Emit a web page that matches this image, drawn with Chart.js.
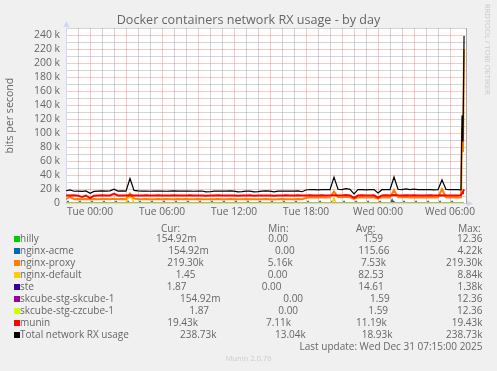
<!DOCTYPE html>
<html>
<head>
<meta charset="utf-8">
<script src="https://cdn.jsdelivr.net/npm/chart.js@4.4.1/dist/chart.umd.min.js"></script>
<style>
  body { margin: 0; background: #f0f0f0; }
  #wrap { position: relative; width: 497px; height: 371px; overflow: hidden; font-family: "Open Sans", sans-serif; color: #666; }
  #grafico { position: absolute; left: 0; top: 0; }
  .t { position: absolute; font-size: 10px; line-height: 12px; white-space: nowrap; }
  .sw { position: absolute; width: 6px; height: 6px; }
  #marca { position: absolute; left: 492px; top: 4px; font-size: 7.6px; line-height: 9px; color: #c8c8c8; white-space: nowrap; transform: rotate(90deg); transform-origin: left top; }
  #versao { position: absolute; left: 0; width: 497px; text-align: center; font-size: 7.6px; line-height: 9px; color: #cccccc; }
</style>
</head>
<body>
<div id="wrap">
  <canvas id="grafico" width="497" height="371"></canvas>
  <div id="marca">RRDTOOL / TOBI OETIKER</div>
  <div id="legenda"></div>
</div>
<script>
// =============================
// DADOS
// =============================
const chartTitle = "Docker containers network RX usage - by day";
const yAxisTitle = "bits per second";

// ticks (hours from Tue 00:00, values in k)
const xTickHours = [0, 6, 12, 18, 24, 30];
const xTickLabels = ["Tue 00:00", "Tue 06:00", "Tue 12:00", "Tue 18:00", "Wed 00:00", "Wed 06:00"];
const yTickValues = [0, 20, 40, 60, 80, 100, 120, 140, 160, 180, 200, 220, 240];
const yTickLabels = ["0", "20 k", "40 k", "60 k", "80 k", "100 k", "120 k", "140 k", "160 k", "180 k", "200 k", "220 k", "240 k"];

// 20 minute samples from Mon 22:00, then the last 5 minute samples
const sampleHours = Array.from({ length: 99 }, (_, i) => -2 + i / 3);
const tailHours = [30.83, 30.92, 31.0, 31.08, 31.17];
const hours = sampleHours.concat(tailHours);

const totalValues = [
  17.5, 18.6, 16.8, 17.0, 16.5, 17.2,
  13.9, 16.6, 17.0, 17.2, 16.9, 17.4,
  19.8, 17.0, 17.2, 16.9, 35.0, 18.0,
  17.2, 16.9, 17.1, 16.8, 17.0, 17.1,
  17.0, 16.8, 17.0, 17.2, 16.9, 17.0,
  17.1, 17.0, 16.8, 17.0, 17.1, 15.8,
  16.1, 17.0, 17.1, 16.9, 17.0, 17.2,
  17.0, 15.8, 16.2, 17.0, 17.1, 15.9,
  16.2, 17.0, 17.2, 17.0, 16.0, 16.9,
  17.0, 17.1, 16.9, 17.0, 17.2, 16.1,
  18.6, 19.3, 19.0, 18.8, 19.1, 19.0,
  19.2, 37.0, 19.6, 19.2, 20.6, 19.5,
  13.04, 19.0, 19.2, 18.9, 19.0, 19.1,
  14.3, 19.0, 19.2, 19.0, 37.2, 19.6,
  19.2, 20.1, 19.0, 19.7, 19.0, 19.3,
  19.0, 19.2, 18.9, 19.1, 33.0, 19.4,
  19.0, 19.2, 19.0,
  18.8, 19.1, 125.0, 88.0, 238.73
];

const muninValues = [
  10.8, 10.6, 10.9, 10.5, 8.6, 10.7,
  7.11, 10.4, 10.8, 10.9, 10.6, 10.8,
  13.2, 10.7, 10.8, 10.6, 11.0, 10.9,
  10.8, 10.6, 10.9, 10.7, 10.8, 10.9,
  10.7, 10.8, 10.6, 10.9, 10.8, 10.7,
  10.8, 10.9, 10.7, 10.6, 10.8, 10.5,
  10.6, 10.8, 10.9, 10.7, 10.8, 10.9,
  10.8, 10.4, 10.6, 10.8, 10.9, 10.5,
  10.6, 10.8, 10.9, 10.8, 10.5, 10.7,
  10.8, 10.9, 10.7, 10.8, 10.9, 10.6,
  10.7, 10.9, 10.8, 10.7, 10.9, 10.8,
  10.9, 11.2, 10.8, 10.9, 11.4, 10.8,
  7.4, 10.7, 10.9, 10.8, 10.7, 10.9,
  7.6, 10.8, 10.9, 10.7, 11.3, 10.9,
  10.8, 11.2, 10.7, 10.9, 10.8, 10.9,
  10.8, 10.9, 10.7, 10.8, 11.0, 10.9,
  10.8, 10.9, 10.8,
  11.0, 11.6, 14.0, 16.0, 19.43
];

const proxyValues = [
  5.6, 8.6, 5.5, 5.7, 5.5, 5.6,
  5.4, 5.6, 5.5, 5.7, 5.6, 5.5,
  6.2, 5.5, 5.6, 5.5, 13.5, 6.2,
  5.6, 5.5, 5.6, 5.4, 5.5, 5.6,
  5.5, 5.6, 5.4, 5.5, 5.6, 5.5,
  5.6, 5.5, 5.4, 5.6, 5.5, 5.3,
  5.4, 5.5, 5.6, 5.5, 5.4, 5.6,
  5.5, 5.3, 5.4, 5.6, 5.5, 5.2,
  5.3, 5.5, 5.6, 5.5, 5.16, 5.5,
  5.6, 5.5, 5.4, 5.5, 5.6, 5.4,
  7.2, 8.2, 8.0, 8.1, 7.9, 8.0,
  8.1, 16.5, 8.6, 8.2, 8.8, 8.1,
  5.8, 8.0, 8.2, 7.9, 8.0, 8.1,
  6.2, 8.0, 8.1, 8.0, 18.5, 8.4,
  8.1, 8.6, 8.0, 8.3, 8.0, 8.2,
  8.0, 8.1, 7.9, 8.2, 20.0, 8.3,
  8.0, 8.1, 8.0,
  7.9, 8.2, 108.0, 73.0, 219.30
];

// sparse series: explicit hours / values
const defaultHours = [-2, 3.0, 3.17, 3.33, 3.5, 3.67, 20.17, 20.33, 20.5, 31.17];
const defaultValues = [0, 0, 6.5, 8.84, 7.2, 0, 0, 7.0, 0, 0];
const steHours = [-2, 25.25, 25.33, 25.42, 31.17];
const steValues = [0, 0, 1.38, 0, 0];
const flatHours = [-2, 31.17];
const hillyValues = [0, 0];
const skcubeValues = [0, 0];
const czcubeValues = [0, 0];

// nginx-acme: short hourly blips
const acmeBlipHours = [-1.83, -0.83, 0.17, 1.17, 2.17, 3.17, 4.17, 5.17, 6.17, 7.17, 8.17,
  9.17, 10.17, 11.17, 12.17, 13.17, 14.17, 15.17, 16.17, 17.17, 18.17, 19.17, 20.17,
  21.17, 22.17, 23.17, 24.17, 25.17, 26.17, 27.17, 28.17, 29.17, 30.17];
const acmeBlipValues = [2.1, 2.0, 2.1, 2.0, 2.1, 2.0, 2.1, 2.0, 2.1, 2.0, 2.1,
  2.0, 2.1, 2.0, 2.1, 2.0, 2.1, 2.0, 2.1, 2.0, 2.1, 2.0, 2.1,
  2.0, 2.1, 2.0, 2.1, 4.22, 2.1, 2.0, 2.1, 2.0, 2.1];

// legend
const seriesNames = ["hilly", "nginx-acme", "nginx-proxy", "nginx-default", "ste",
  "skcube-stg-skcube-1", "skcube-stg-czcube-1", "munin", "Total network RX usage"];
const seriesColors = ["#00CC00", "#0066B3", "#FF8000", "#FFCC00", "#330099",
  "#990099", "#CCFF00", "#FF0000", "#000000"];
const curValues = ["154.92m", "154.92m", "219.30k", "1.45", "1.87", "154.92m", "1.87", "19.43k", "238.73k"];
const minValues = ["0.00", "0.00", "5.16k", "0.00", "0.00", "0.00", "0.00", "7.11k", "13.04k"];
const avgValues = ["1.59", "115.66", "7.53k", "82.53", "14.61", "1.59", "1.59", "11.19k", "18.93k"];
const maxValues = ["12.36", "4.22k", "219.30k", "8.84k", "1.38k", "12.36", "12.36", "19.43k", "238.73k"];
const lastUpdate = "Last update: Wed Dec 31 07:15:00 2025";
const muninVersion = "Munin 2.0.76";

// =============================
// LAYOUT (pixels)
// =============================
const lineWidths = [1, 1.5, 2, 1.5, 1.5, 1, 1.5, 2, 1.2];
const curX = [156, 168.3, 167.3, 175.7, 166.7, 180, 189.3, 167.3, 180];
const minX = [268.3, 275, 267.7, 267.7, 261.7, 283.3, 278.3, 266, 275];
const avgX = [363.3, 358.3, 361, 358.3, 358.3, 370, 368.3, 356, 361.7];
const maxRight = 482.5;
const headerX = [161, 268.3, 356, 458.3];
const headerBaseline = 231.7;
const firstRowBaseline = 242.3;
const rowStep = 12;

// =============================
// SERIES
// =============================
function toPoints(xs, ys) {
  return xs.map((x, i) => ({ x: x, y: ys[i] }));
}

function blipPoints(xs, ys) {
  const pts = [{ x: -2, y: 0 }];
  xs.forEach((x, i) => {
    pts.push({ x: x - 0.08, y: 0 }, { x: x, y: ys[i] }, { x: x + 0.08, y: 0 });
  });
  pts.push({ x: 31.17, y: 0 });
  return pts;
}

const seriesPoints = [
  toPoints(flatHours, hillyValues),
  blipPoints(acmeBlipHours, acmeBlipValues),
  toPoints(hours, proxyValues),
  toPoints(defaultHours, defaultValues),
  toPoints(steHours, steValues),
  toPoints(flatHours, skcubeValues),
  toPoints(flatHours, czcubeValues),
  toPoints(hours, muninValues),
  toPoints(hours, totalValues)
];

const datasets = seriesNames.map((name, i) => ({
  label: name,
  data: seriesPoints[i],
  borderColor: seriesColors[i],
  backgroundColor: seriesColors[i],
  borderWidth: lineWidths[i],
  pointRadius: 0,
  tension: 0,
  fill: false,
  order: seriesNames.length - i // total on top
}));

// =============================
// GRAFICO
// =============================
// rrdtool default grid colours
const majorGrid = "rgba(222, 79, 79, 0.6)";
const minorGrid = "rgba(143, 143, 143, 0.75)";
const axisColor = "#CFD6F8";
const fontFamily = "'Open Sans', sans-serif";
// 1 on / 1 off dots, offset by half a pixel so the dots blend evenly
const gridDash = [1, 1];
const gridDashOffset = 0.5;

const muninFrame = {
  id: "muninFrame",
  beforeDraw(chart) {
    const { ctx, chartArea: a } = chart;
    ctx.save();
    ctx.fillStyle = "#ffffff";
    ctx.fillRect(a.left, a.top, a.right - a.left, a.bottom - a.top);
    ctx.restore();
  },
  afterDraw(chart) {
    const { ctx, chartArea: a } = chart;
    ctx.save();
    ctx.fillStyle = axisColor;
    // arrow on top of y axis
    ctx.beginPath();
    ctx.moveTo(a.left - 2.5, a.top - 1);
    ctx.lineTo(a.left + 3.5, a.top - 1);
    ctx.lineTo(a.left + 0.5, a.top - 7);
    ctx.closePath();
    ctx.fill();
    // arrow at end of x axis
    ctx.beginPath();
    ctx.moveTo(a.right + 1, a.bottom - 2.5);
    ctx.lineTo(a.right + 1, a.bottom + 3.5);
    ctx.lineTo(a.right + 7, a.bottom + 0.5);
    ctx.closePath();
    ctx.fill();
    ctx.restore();
  }
};

new Chart(document.getElementById("grafico"), {
  type: "line",
  data: { datasets: datasets },
  plugins: [muninFrame],
  options: {
    responsive: false,
    animation: false,
    devicePixelRatio: 1,
    layout: { padding: { left: 0, top: 0, right: 0, bottom: 148 } },
    plugins: {
      legend: { display: false },
      tooltip: { enabled: false },
      title: {
        display: true,
        text: chartTitle,
        color: "#666",
        font: { family: fontFamily, size: 12.6, weight: "normal" },
        padding: { top: 13, bottom: 0 }
      }
    },
    scales: {
      x: {
        type: "linear",
        min: -2,
        max: 31.333,
        afterBuildTicks: s => { s.ticks = s.ticks.filter(t => Number.isInteger(t.value)); },
        afterFit: s => { s.height = 20; },
        ticks: {
          stepSize: 1,
          autoSkip: false,
          maxRotation: 0,
          padding: 3,
          color: "#666",
          font: { family: fontFamily, size: 10.2 },
          callback: v => {
            const k = xTickHours.indexOf(v);
            return k >= 0 ? xTickLabels[k] : "";
          }
        },
        grid: {
          drawTicks: false,
          lineWidth: 1,
          color: c => (c.tick && c.tick.value % 3 === 0 ? majorGrid : minorGrid)
        },
        border: { color: axisColor, width: 1, dash: gridDash, dashOffset: gridDashOffset }
      },
      y: {
        type: "linear",
        min: 0,
        max: 250,
        afterFit: s => { s.width = 66; },
        ticks: {
          stepSize: 10,
          autoSkip: false,
          padding: 6,
          color: "#666",
          font: { family: fontFamily, size: 10.4 },
          callback: v => {
            const k = yTickValues.indexOf(v);
            return k >= 0 ? yTickLabels[k] : "";
          }
        },
        grid: {
          drawTicks: false,
          lineWidth: 1,
          color: c => (c.tick && c.tick.value % 20 === 0 ? majorGrid : minorGrid)
        },
        border: { color: axisColor, width: 1, dash: gridDash, dashOffset: gridDashOffset },
        title: {
          display: true,
          text: yAxisTitle,
          color: "#666",
          font: { family: fontFamily, size: 10.6 },
          padding: { top: 4, bottom: 0 }
        }
      },
      y2: {
        type: "linear",
        position: "right",
        afterFit: s => { s.width = 31; },
        ticks: { display: false },
        grid: { display: false },
        border: { color: "#a8a8a8", width: 1 }
      }
    }
  }
});

// =============================
// LEGENDA
// =============================
const legendaDiv = document.getElementById("legenda");

function addText(text, x, baseline, alignRight) {
  const span = document.createElement("span");
  span.className = "t";
  span.textContent = text;
  span.style.top = (baseline - 9.9) + "px";
  if (alignRight) {
    span.style.right = (497 - x) + "px";
  } else {
    span.style.left = x + "px";
  }
  legendaDiv.appendChild(span);
}

["Cur:", "Min:", "Avg:", "Max:"].forEach((h, i) => addText(h, headerX[i], headerBaseline));

seriesNames.forEach((name, i) => {
  const baseline = firstRowBaseline + i * rowStep;

  const sw = document.createElement("div");
  sw.className = "sw";
  sw.style.left = "14px";
  sw.style.top = (baseline - 6) + "px";
  sw.style.background = seriesColors[i];
  legendaDiv.appendChild(sw);

  addText(name, 20, baseline);
  addText(curValues[i], curX[i], baseline);
  addText(minValues[i], minX[i], baseline);
  addText(avgValues[i], avgX[i], baseline);
  addText(maxValues[i], maxRight, baseline, true);
});

addText(lastUpdate, maxRight, firstRowBaseline + 9 * rowStep - 0.5, true);

const versao = document.createElement("div");
versao.id = "versao";
versao.textContent = muninVersion;
versao.style.top = "354px";
legendaDiv.appendChild(versao);
</script>
</body>
</html>
